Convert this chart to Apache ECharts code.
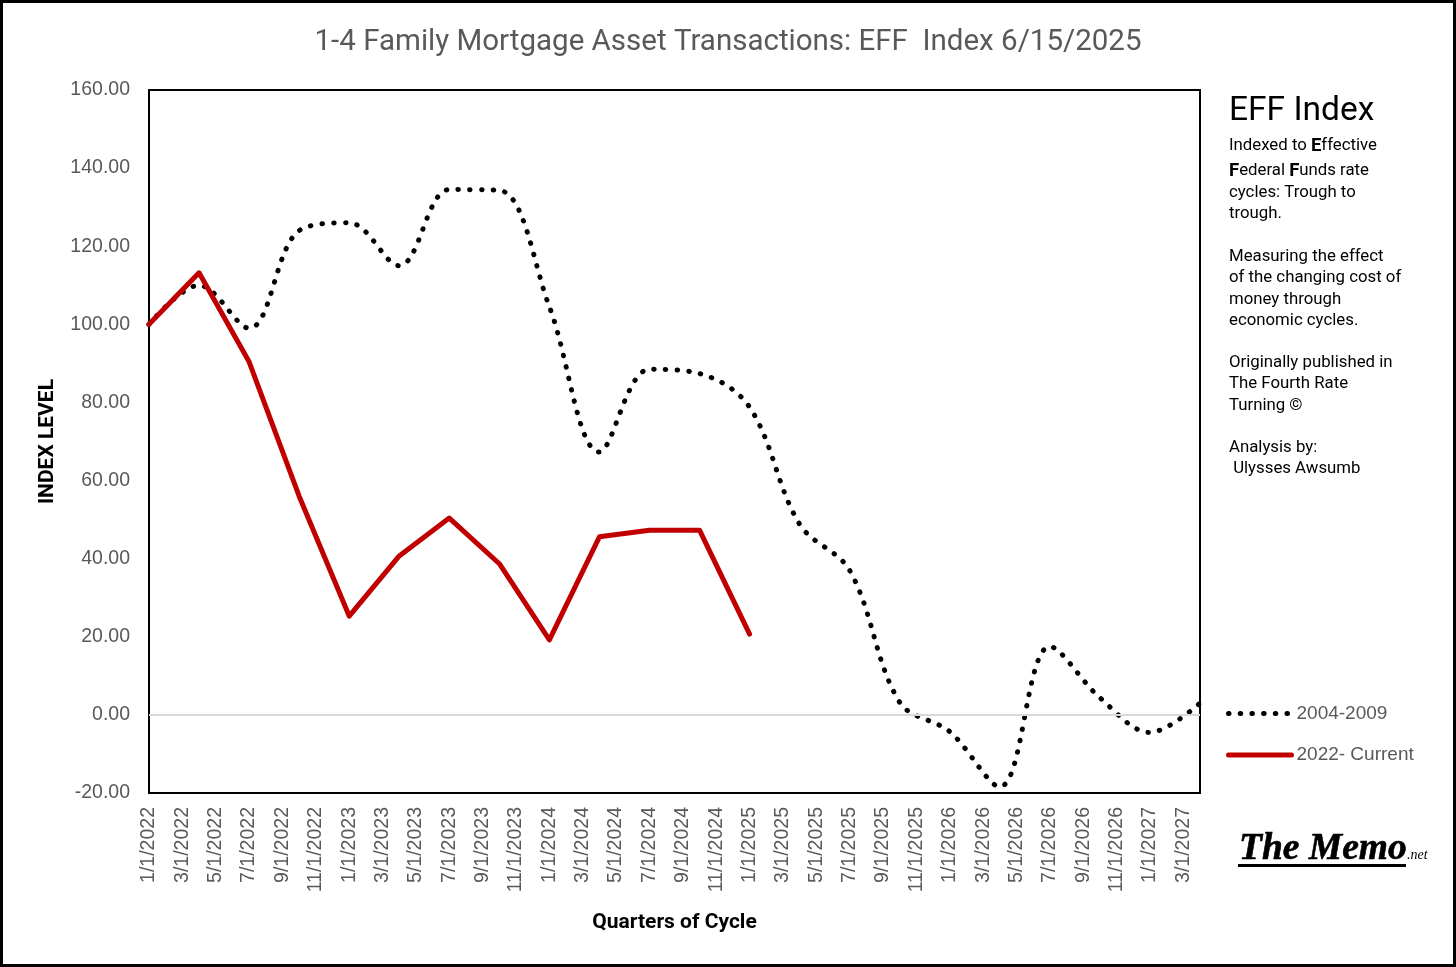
<!DOCTYPE html>
<html><head><meta charset="utf-8">
<script src="https://cdn.jsdelivr.net/npm/echarts@6/dist/echarts.min.js"></script>
<style>html,body{margin:0;padding:0;background:#fff}#c{width:1456px;height:967px}</style>
</head><body><div id="c"></div>
<script>
// Tick labels on the x axis (every two months)
const tickLabels = ['1/1/2022','3/1/2022','5/1/2022','7/1/2022','9/1/2022','11/1/2022',
  '1/1/2023','3/1/2023','5/1/2023','7/1/2023','9/1/2023','11/1/2023',
  '1/1/2024','3/1/2024','5/1/2024','7/1/2024','9/1/2024','11/1/2024',
  '1/1/2025','3/1/2025','5/1/2025','7/1/2025','9/1/2025','11/1/2025',
  '1/1/2026','3/1/2026','5/1/2026','7/1/2026','9/1/2026','11/1/2026',
  '1/1/2027','3/1/2027'];
// Quarterly values (one point per quarter, starting 1/1/2022)
const cycle2004 = [100, 110, 99, 124, 126, 115, 134.5, 134.3, 104.5, 67.3, 88.5, 87.4,
  78.8, 48.8, 37, 3.2, -4.3, -18.4, 17.5, 4.4, -4.5, 3];
const cycle2022 = [100, 113.2, 90.4, 56, 25.3, 40.7, 50.4, 38.7, 19.2, 45.6, 47.3, 47.3, 20.7];
const seriesNames = ['2004-2009', '2022- Current'];
const yTicks = {min: -20, max: 160, step: 20};
const monthsPerQuarter = 3;
const axisMonths = 63;

const toPoints = arr => arr.map((v, i) => [i * monthsPerQuarter, v]);

const chart = echarts.init(document.getElementById('c'), null, {renderer: 'canvas'});
const sideFont = 'Roboto, "Noto Sans", sans-serif';
const dotted = [0.5, 11.2];
const sideLines = [
  ['Indexed to {b|E}ffective', 146],
  ['{b|F}ederal {b|F}unds rate', 171],
  ['cycles: Trough to', 192.5],
  ['trough.', 213.5],
  ['Measuring the effect', 256.5],
  ['of the changing cost of', 278],
  ['money through', 299.5],
  ['economic cycles.', 320.8],
  ['Originally published in', 362.7],
  ['The Fourth Rate', 384],
  ['Turning \u00A9', 405.5],
  ['Analysis by:', 447.5],
  [' Ulysses Awsumb', 468.8]
];
const graphics = [
  {type: 'rect', shape: {x: 1.5, y: 1.5, width: 1453, height: 964}, style: {fill: 'none', stroke: '#000', lineWidth: 3}, silent: true},
  {type: 'text', x: 1229, y: 112, style: {text: 'EFF Index', font: '33.5px ' + sideFont, fill: '#000', align: 'left', verticalAlign: 'middle', textAlign: 'left', textVerticalAlign: 'middle'}}
];
sideLines.forEach(([t, y]) => {
  graphics.push({type: 'text', x: 1229, y: y, style: {
    text: t, fontSize: 16.8, fontFamily: sideFont, fill: '#000',
    align: 'left', verticalAlign: 'middle', textAlign: 'left', textVerticalAlign: 'middle',
    rich: {b: {fontWeight: 'bold', fontSize: 18.5, fontFamily: sideFont, fill: '#000'}}
  }});
});
graphics.push(
  {type: 'text', x: 1239, y: 868, style: {text: 'The Memo', font: 'italic bold 37.5px "Liberation Serif", "DejaVu Serif", serif', fill: '#000', stroke: '#000', lineWidth: 0.6, align: 'left', verticalAlign: 'bottom', textAlign: 'left', textVerticalAlign: 'bottom'}},
  {type: 'text', x: 1407, y: 862, style: {text: '.net', font: 'italic 14px "Liberation Serif", serif', fill: '#000', align: 'left', verticalAlign: 'bottom', textAlign: 'left', textVerticalAlign: 'bottom'}},
  {type: 'line', shape: {x1: 1238, y1: 865.5, x2: 1406, y2: 865.5}, style: {stroke: '#000', lineWidth: 3}}
);

chart.setOption({
  animation: false,
  backgroundColor: '#fff',
  title: {
    text: '1-4 Family Mortgage Asset Transactions: EFF  Index 6/15/2025',
    left: 'center', top: 23,
    textStyle: {fontFamily: 'Roboto, sans-serif', fontWeight: 'normal', fontSize: 29.5, color: '#595959'}
  },
  legend: {
    orient: 'vertical', left: 1226, top: 704, itemGap: 22.5, padding: 0,
    itemWidth: 63, itemHeight: 14,
    itemStyle: {opacity: 0},
    data: [
      {name: seriesNames[0], itemStyle: {opacity: 0}, lineStyle: {color: '#000', width: 5, type: dotted, cap: 'round'}},
      {name: seriesNames[1], itemStyle: {opacity: 0}, lineStyle: {color: '#c00000', width: 5, type: 'solid', cap: 'round'}}
    ],
    textStyle: {fontFamily: '"Liberation Sans", Arial, sans-serif', fontSize: 19, color: '#595959'}
  },
  grid: {left: 149, top: 90, right: 256, bottom: 174, show: true, borderColor: '#000', borderWidth: 2, backgroundColor: 'rgba(0,0,0,0)'},
  xAxis: {
    type: 'value', min: 0, max: axisMonths, interval: 2,
    name: 'Quarters of Cycle', nameLocation: 'middle', nameGap: 119,
    nameTextStyle: {fontFamily: 'Roboto, sans-serif', fontWeight: 'bold', fontSize: 21, color: '#000'},
    axisLine: {show: false}, axisTick: {show: false}, splitLine: {show: false},
    axisLabel: {
      rotate: 90, margin: 14, fontFamily: '"Liberation Sans", Arial, sans-serif', fontSize: 19.5, color: '#595959',
      showMaxLabel: false,
      formatter: v => { const i = v / 2; return Number.isInteger(i) && tickLabels[i] ? tickLabels[i] : ''; }
    }
  },
  yAxis: {
    type: 'value', min: yTicks.min, max: yTicks.max, interval: yTicks.step,
    name: 'INDEX LEVEL', nameLocation: 'middle', nameGap: 91, nameRotate: 90,
    nameTextStyle: {fontFamily: 'Roboto, sans-serif', fontWeight: 'bold', fontSize: 21, color: '#000'},
    axisLine: {show: false}, axisTick: {show: false}, splitLine: {show: false},
    axisLabel: {margin: 19, fontFamily: '"Liberation Sans", Arial, sans-serif', fontSize: 19.5, color: '#595959', formatter: v => v.toFixed(2)}
  },
  series: [
    {
      name: seriesNames[0], type: 'line', data: toPoints(cycle2004), smooth: 0.35,
      symbol: 'none', color: '#000',
      lineStyle: {color: '#000', width: 5, type: dotted, cap: 'round'},
      markLine: {silent: true, symbol: 'none', label: {show: false},
        lineStyle: {color: '#d9d9d9', width: 2, type: 'solid'}, data: [{yAxis: 0}]},
      z: 2
    },
    {
      name: seriesNames[1], type: 'line', data: toPoints(cycle2022),
      symbol: 'none', color: '#c00000',
      lineStyle: {color: '#c00000', width: 5, cap: 'round', join: 'round'},
      z: 3
    }
  ],
  graphic: graphics
});
</script></body></html>
